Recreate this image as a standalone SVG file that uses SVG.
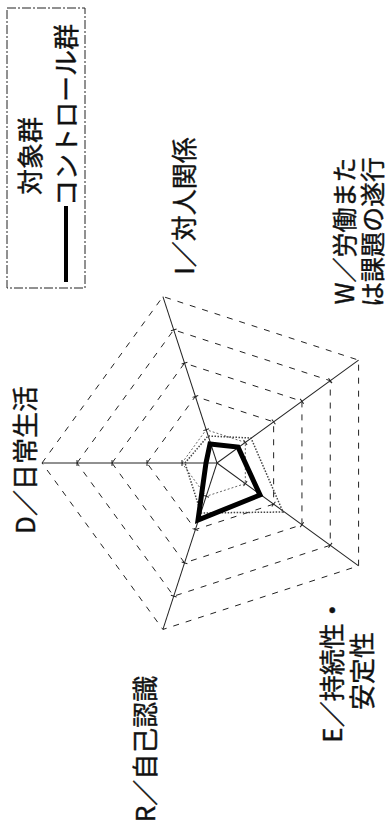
<svg xmlns="http://www.w3.org/2000/svg" width="388" height="834" viewBox="0 0 388 834">
<style>
.lbl{font-family:"Noto Sans CJK JP","Noto Sans",sans-serif;font-size:26px;fill:#111;stroke:#111;stroke-width:0.4;text-anchor:middle;dominant-baseline:central}
.sm{font-size:25px}
.grid{fill:none;stroke:#222;stroke-width:1;stroke-dasharray:6 7}
.grid1{fill:none;stroke:#666;stroke-width:1;stroke-dasharray:2 2}
.axis{stroke:#222;stroke-width:1;fill:none}
.tick{stroke:#222;stroke-width:1}
.ctrl{fill:none;stroke:#000;stroke-width:5;stroke-linejoin:miter}
.subj{fill:none;stroke:#444;stroke-width:1.5;stroke-dasharray:1.5 1.5}
</style>
<rect width="388" height="834" fill="#fff"/>
<g id="legend">
<rect x="7" y="8" width="78" height="280" fill="none" stroke="#222" stroke-width="1" stroke-dasharray="9 2 2 2"/>
<text class="lbl" transform="translate(28,156) rotate(-90)">対象群</text>
<text class="lbl" transform="translate(64,115) rotate(-90)">コントロール群</text>
<line x1="66" y1="206" x2="66" y2="282" stroke="#000" stroke-width="4"/>
</g>
<g id="grid">
<polygon class="grid" points="42,463 162.92,296.56 358.58,360.14 358.58,565.86 162.92,629.44"/>
<polygon class="grid" points="77,463 173.74,329.85 330.26,380.71 330.26,545.29 173.74,596.15"/>
<polygon class="grid" points="112,463 184.55,363.13 301.95,401.28 301.95,524.72 184.55,562.87"/>
<polygon class="grid" points="147,463 195.37,396.42 273.63,421.85 273.63,504.15 195.37,529.58"/>
<polygon class="grid1" points="182,463 206.18,429.71 245.32,442.43 245.32,483.57 206.18,496.29"/>
</g>
<g id="axes">
<g transform="translate(217,463) rotate(180)"><line class="axis" x1="0" y1="0" x2="175" y2="0"/><path class="tick" d="M35,-3V3M70,-3V3M105,-3V3M140,-3V3"/></g>
<g transform="translate(217,463) rotate(-108)"><line class="axis" x1="0" y1="0" x2="175" y2="0"/><path class="tick" d="M35,-3V3M70,-3V3M105,-3V3M140,-3V3"/></g>
<g transform="translate(217,463) rotate(-36)"><line class="axis" x1="0" y1="0" x2="175" y2="0"/><path class="tick" d="M35,-3V3M70,-3V3M105,-3V3M140,-3V3"/></g>
<g transform="translate(217,463) rotate(36)"><line class="axis" x1="0" y1="0" x2="175" y2="0"/><path class="tick" d="M35,-3V3M70,-3V3M105,-3V3M140,-3V3"/></g>
<g transform="translate(217,463) rotate(108)"><line class="axis" x1="0" y1="0" x2="175" y2="0"/><path class="tick" d="M35,-3V3M70,-3V3M105,-3V3M140,-3V3"/></g>
</g>
<g id="series-subject">
<polygon class="subj" points="185,463 208,436 251,438 283,512 201,513"/>
</g>
<g id="series-control">
<polygon class="ctrl" points="206,463 210,444 238,447 260,495 198,520"/>
</g>
<g id="label-I"><text class="lbl" transform="translate(182,206) rotate(-90)">I／対人関係</text></g>
<g id="label-W">
<text class="lbl sm" transform="translate(343,231) rotate(-90)">W／労働また</text>
<text class="lbl sm" transform="translate(371,232) rotate(-90)">は課題の遂行</text>
</g>
<g id="label-D"><text class="lbl" transform="translate(23,460) rotate(-90)">D／日常生活</text></g>
<g id="label-R"><text class="lbl" transform="translate(143,749) rotate(-90)">R／自己認識</text></g>
<g id="label-E">
<text class="lbl" transform="translate(330,670) rotate(-90)">E／持続性・</text>
<text class="lbl" transform="translate(360,671) rotate(-90)">安定性</text>
</g>
</svg>
